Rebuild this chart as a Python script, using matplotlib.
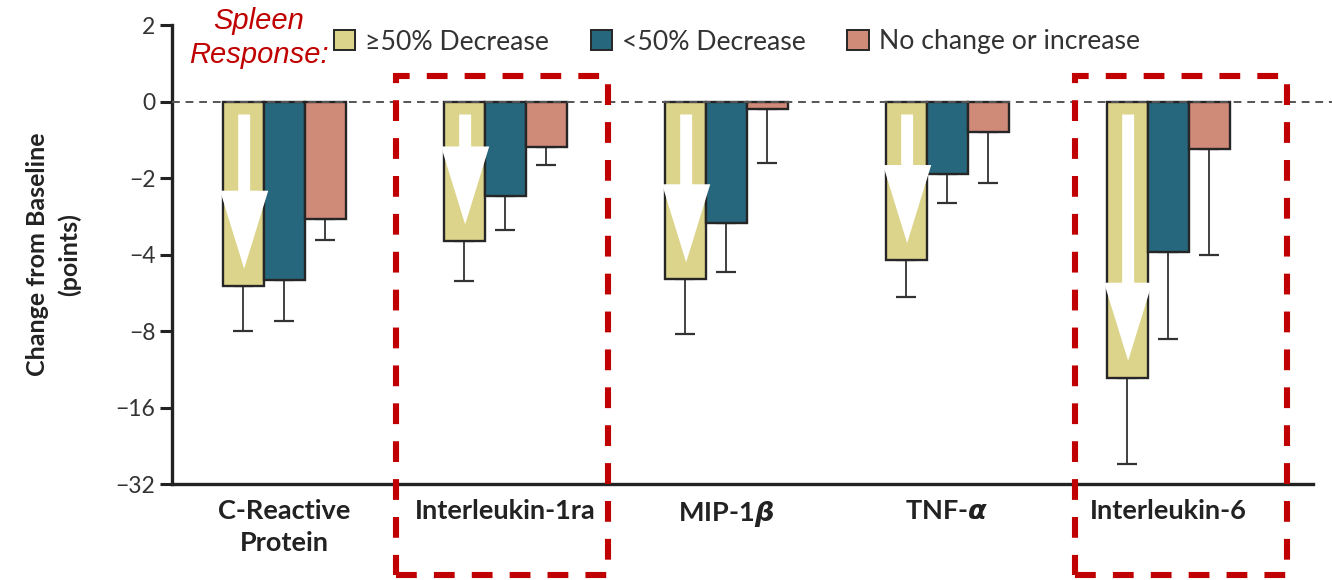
import numpy as np
import matplotlib
matplotlib.use("Agg")
import matplotlib.pyplot as plt
from matplotlib.patches import Patch, Rectangle, Polygon
from matplotlib import transforms

plt.rcParams['font.family'] = ['Lato', 'DejaVu Sans']
plt.rcParams['mathtext.fontset'] = 'custom'
plt.rcParams['mathtext.it'] = 'DejaVu Sans:italic:bold'

# ---- data -------------------------------------------------------------
categories = ["C-Reactive\nProtein", "Interleukin-1ra", r"MIP-1$\beta$",
              r"TNF-$\alpha$", "Interleukin-6"]
series_names = ["≥50% Decrease", "<50% Decrease", "No change or increase"]

decrease_ge50 = [-5.3, -3.55, -5.0, -4.2, -12.2]
decrease_lt50 = [-5.05, -2.35, -3.0, -1.9, -3.9]
no_change = [-2.9, -1.2, -0.2, -0.8, -1.25]

err_ge50 = [2.7, 1.55, 3.2, 1.7, 14.6]
err_lt50 = [2.25, 0.85, 1.7, 0.6, 4.7]
err_no_change = [0.6, 0.45, 1.4, 1.3, 2.75]

yticks = [2, 0, -2, -4, -8, -16, -32]
highlighted = [1, 4]

colors = ["#DDD48B", "#26677E", "#CF8A78"]
edge = "#262626"
red = "#C00000"


# linear between -2 and 2, base-2 logarithmic below -2
def fwd(y):
    y = np.asarray(y, dtype=float)
    return np.where(y >= -2, y / 2.0, -np.log2(np.maximum(-y, 2.0)))


def inv(t):
    t = np.asarray(t, dtype=float)
    return np.where(t >= -1, 2.0 * t, -np.power(2.0, np.maximum(-t, 1.0)))


W, H = 1332, 580
fig = plt.figure(figsize=(W / 100, H / 100), dpi=100)
ax = fig.add_axes([172 / W, 1 - 484 / H, (1313 - 172) / W, (484 - 25) / H])
ax.set_yscale('function', functions=(fwd, inv))

x = np.arange(len(categories))
bw = 0.1855
series = [(decrease_ge50, err_ge50), (decrease_lt50, err_lt50),
          (no_change, err_no_change)]
for i, ((vals, errs), c, name) in enumerate(zip(series, colors, series_names)):
    xs = x + (i - 1) * bw
    ax.bar(xs, vals, width=bw, color=c, edgecolor=edge, linewidth=1.7,
           zorder=3, label=name)
    ax.errorbar(xs, vals, yerr=[errs, np.zeros(len(errs))], fmt='none',
                ecolor="#333333", elinewidth=1.3, capsize=7, capthick=1.6,
                zorder=2)

# zero reference line
ax.axhline(0, xmin=0, xmax=1.02, color="#555555", lw=1.4,
           ls=(0, (4, 3)), zorder=4, clip_on=False)

ax.set_xlim(-0.507, 4.656)
ax.set_ylim(-32, 2)
ax.set_yticks(yticks)
ax.set_yticklabels([str(v).replace('-', '\u2212') for v in yticks],
                   fontsize=16.5, color="#333333")
ax.yaxis.set_minor_locator(matplotlib.ticker.NullLocator())
ax.tick_params(axis='y', length=9, width=2.2, color="#222222", pad=3)
ax.set_xticks(x)
ax.set_xticklabels(categories, fontsize=19.5, fontweight='bold',
                   color="#222222", linespacing=1.4)
ax.tick_params(axis='x', length=0, pad=11)
for s in ['top', 'right']:
    ax.spines[s].set_visible(False)
for s in ['left', 'bottom']:
    ax.spines[s].set_linewidth(2.4)
    ax.spines[s].set_color("#222222")

ax.set_ylabel("Change from Baseline\n(points)", fontsize=18,
              fontweight='bold', color="#222222", linespacing=1.4,
              labelpad=25)

# white downward arrows over the >=50% bars
for xi, v in zip(x - bw, decrease_ge50):
    tip = float(fwd(v)) + 0.22
    head_top = tip + 1.02
    top = -0.17
    sw, hw = 0.027, 0.109
    cx = xi + 0.005
    pts_t = [(cx - sw, top), (cx + sw, top), (cx + sw, head_top),
             (cx + hw, head_top), (cx, tip), (cx - hw, head_top),
             (cx - sw, head_top)]
    pts = [(px, float(inv(pt))) for px, pt in pts_t]
    ax.add_patch(Polygon(pts, closed=True, facecolor='white',
                         edgecolor='none', zorder=5))

# dashed red boxes around highlighted cytokines
blend = transforms.blended_transform_factory(ax.transData, fig.transFigure)
box_ext = {1: (-0.495, 0.465), 4: (-0.42, 0.54)}
for k in highlighted:
    lo, hi = box_ext[k]
    ax.add_patch(Rectangle((k + lo, 1 - 575 / H), hi - lo,
                           (575 - 76) / H, transform=blend, fill=False,
                           edgecolor=red, lw=4.4, ls=(0, (3.4, 2.8)),
                           clip_on=False, zorder=6))

# legend
handles = [Patch(facecolor=c, edgecolor=edge, linewidth=1.4) for c in colors]
fig.legend(handles, series_names, loc='center left',
           bbox_to_anchor=(334 / W, 1 - 42 / H), ncol=3, frameon=False,
           fontsize=19.2, handlelength=0.8, handleheight=0.8,
           handletextpad=0.38, columnspacing=1.55, borderpad=0,
           borderaxespad=0, labelcolor="#333333")
fig.text(259 / W, 1 - 38 / H, "Spleen\nResponse:", color=red,
         fontsize=21, style='italic', family=['Liberation Sans', 'DejaVu Sans'],
         ha='center', va='center', linespacing=1.25)

fig.savefig("out.png", dpi=100)
